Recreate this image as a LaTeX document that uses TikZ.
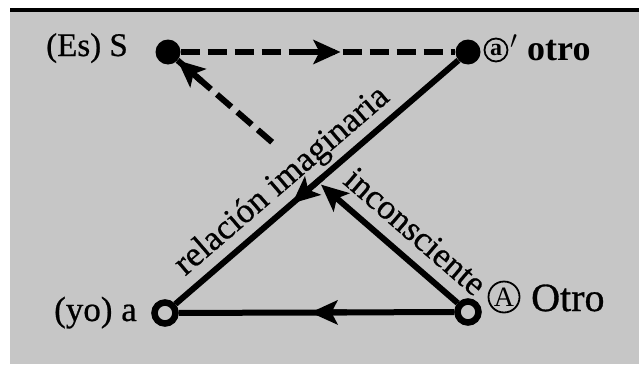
\documentclass[tikz,border=0pt]{standalone}
\usepackage{fontspec}
\setmainfont{Liberation Serif}
\usetikzlibrary{arrows.meta,calc}
\definecolor{bg}{HTML}{C6C6C6}
\begin{document}
\begin{tikzpicture}[x=1pt,y=-1pt,
  conn/.style={line width=6pt},
  dashconn/.style={line width=6pt, dash pattern=on 19pt off 8pt},
  tipline/.style={line width=6pt,-{Stealth[length=27pt,width=24pt,inset=6pt]}},
  fulldot/.style={circle,fill=black,minimum size=25pt,inner sep=0pt},
  opendot/.style={circle,draw=black,line width=6.5pt,fill=bg,minimum size=21pt,inner sep=0pt},
  lbl/.style={font=\fontsize{33}{36}\selectfont\addfontfeatures{FakeBold=0.6}, inner sep=0pt},
  circ/.style={circle,draw=black,line width=1.8pt,inner sep=0pt},
]
\useasboundingbox (0,0) rectangle (639,364);
\fill[bg] (10,12) rectangle (639,364);
\fill[black] (10,8) rectangle (639,12);

\node[fulldot] (S) at (168,52) {};
\node[fulldot] (ap) at (468,52) {};
\node[opendot] (a) at (165,313) {};
\node[opendot] (A) at (468,312) {};

% S -> a' (dashed)
\draw[dashconn] (S) -- (ap);
\draw[tipline] ($(S)!0.45!(ap)$) -- ($(S)!0.575!(ap)$);
% a' -> a
\draw[conn] (ap) -- (a);
\draw[tipline] ($(ap)!0.48!(a)$) -- ($(ap)!0.58!(a)$);
% A -> a
\draw[conn] (A) -- (a);
\draw[tipline] ($(A)!0.40!(a)$) -- ($(A)!0.52!(a)$);
% A -> S
\coordinate (X) at ($(A)!0.49!(S)$);
\coordinate (B) at ($(A)!0.653!(S)$);
\draw[tipline] (A) -- (X);
\draw[dashconn] (B) -- (S);
\draw[tipline] ($(S)!45pt!(B)$) -- (S);

% labels
\node[lbl, anchor=base east] (lS) at (128,56) {(Es) S};
\node[lbl, anchor=base east, font=\fontsize{35}{36}\selectfont\addfontfeatures{FakeBold=0.6}] (la) at (137,321) {(yo) a};
\node[circ, minimum size=23pt, font=\fontsize{24}{24}\selectfont\bfseries] (ca) at (496,50) {a};
\node[lbl, anchor=base west] (pr) at (510,58) {$'$};
\node[lbl, anchor=base west, font=\fontsize{36}{36}\selectfont\bfseries] (lap) at (527,60) {otro};
\node[circ, minimum size=31pt, font=\fontsize{28}{28}\selectfont] (cA) at (504,297) {A};
\node[lbl, anchor=base west, font=\fontsize{40}{40}\selectfont\addfontfeatures{FakeBold=0.8}] (lA) at (531,311) {Otro};

\node[lbl, rotate=40.7, anchor=base, font=\fontsize{35}{36}\selectfont\addfontfeatures{FakeBold=0.6}] (rel) at (288,188) {relación imaginaria};
\node[lbl, rotate=-40.9, anchor=base, font=\fontsize{35}{36}\selectfont\addfontfeatures{FakeBold=0.6}] (inc) at (408,240) {inconsciente};
\end{tikzpicture}
\end{document}
